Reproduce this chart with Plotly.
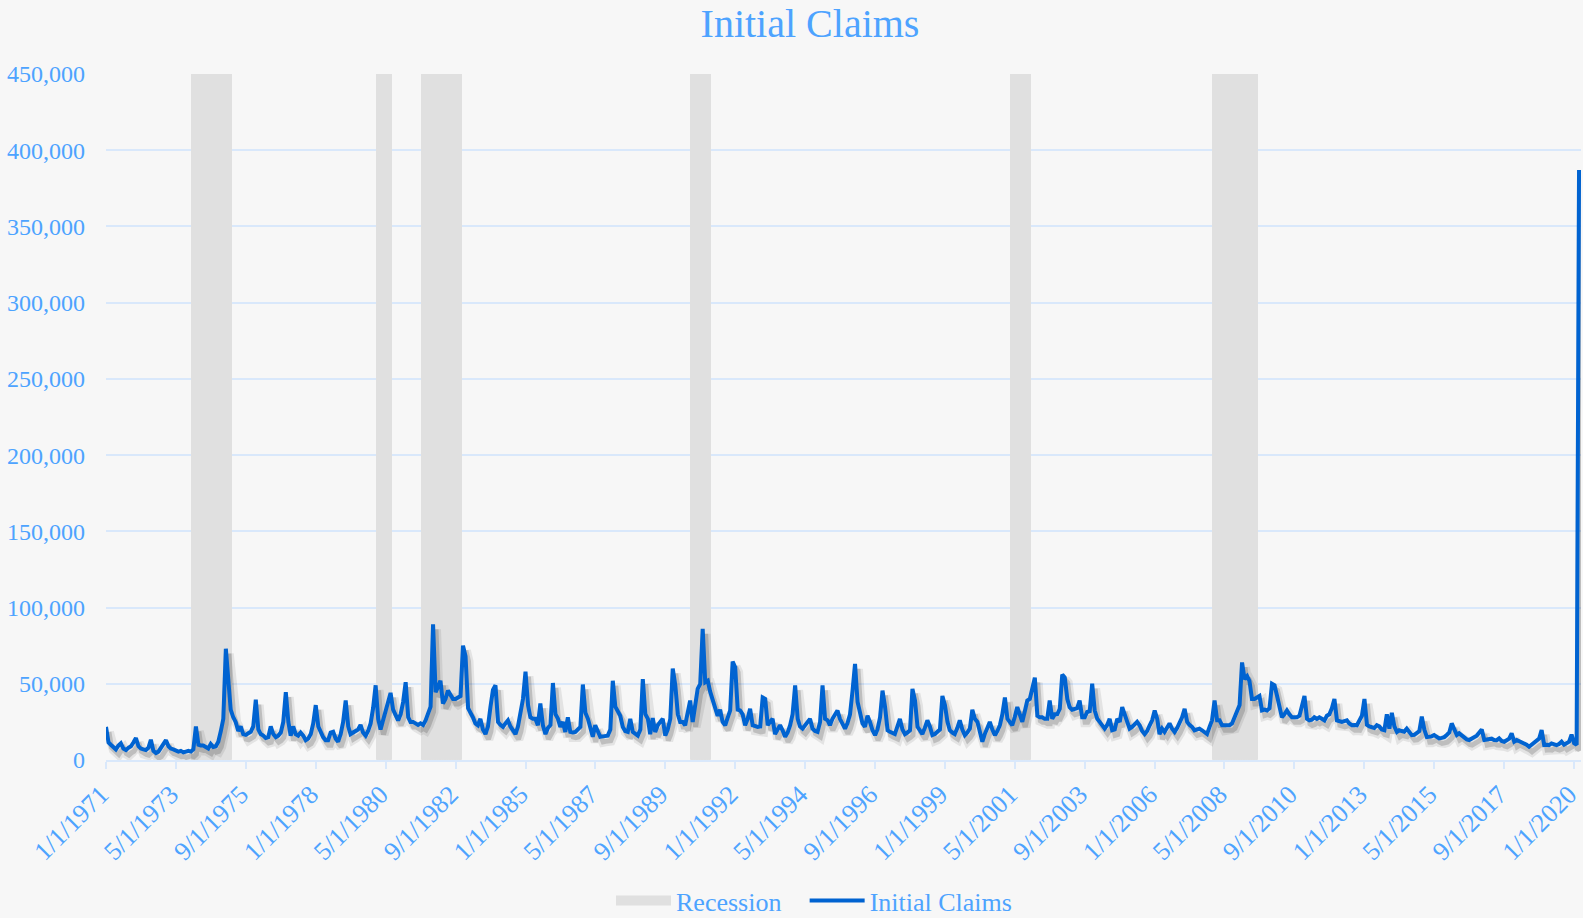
import pandas as pd
import plotly.graph_objects as go

# ---------------- data (initial claims, thousands, monthly from Jan 1971) -------------
UNIT = 1000
claims_1970s = [
    21.7, 11.5, 10, 8.5, 7, 9.5, 11, 7.5, 6.5, 8, 9, 11.5,          # 1971
    14.4, 9, 7.5, 7, 6.5, 8, 13.3, 6, 4.6, 5.5, 8, 10,              # 1972
    13, 9, 7.5, 7, 6, 5.5, 6, 5, 5.5, 6, 5.5, 7,                     # 1973
    22, 10, 9.5, 9.5, 8.5, 7.5, 10.5, 8.5, 9, 12, 19, 27,            # 1974
    73, 50, 33, 28, 25, 19, 22, 17, 16.5, 17.5, 18.5, 22,            # 1975
    39.5, 20, 17, 16, 14.5, 15, 22, 17, 15, 16, 18, 25,              # 1976
    44.5, 25, 16, 22, 17, 16, 18, 16, 13, 14, 17, 24,                # 1977
    36, 22, 18.5, 15, 13, 13, 18, 18.5, 14, 12, 17, 25,              # 1978
    39, 22, 17, 18, 19.5, 20, 23, 18, 16, 19, 24, 34,                # 1979
]
claims_1980s = [
    49, 27, 20, 26, 32, 38, 44, 33, 29, 26, 30, 38,                  # 1980
    51, 28, 25, 25, 24, 23, 24, 23, 26, 31, 35, 89,                  # 1981
    44.5, 48, 52, 37, 40, 45.5, 43, 40, 40, 41, 42, 75,              # 1982
    68, 34, 31.5, 28, 24, 22.8, 27, 20, 17, 22, 35, 46,              # 1983
    49, 25, 23, 21.7, 24, 26, 22, 19, 17, 22, 30, 40,                # 1984
    58, 36, 28, 27, 27, 22.8, 37, 22.8, 17, 21, 23, 50.5,            # 1985
    30, 27, 21.7, 25, 18.4, 28, 18.4, 18, 18.4, 20, 21.7, 49.5,      # 1986
    31, 27, 20.6, 15.2, 22.8, 18, 15.2, 15.5, 16, 16, 20, 52,        # 1987
    35, 31.5, 29, 21.7, 19, 18.4, 27, 18.4, 17, 16, 20, 53,          # 1988
    30, 27, 17, 27.5, 18.4, 22.8, 25, 27, 16, 20, 27, 60,            # 1989
]
claims_1990s = [
    49, 30, 25, 25, 22.8, 30, 39, 25, 35, 46.7, 50, 86,              # 1990
    51, 52, 45, 40, 35, 29, 33, 25, 22.8, 28, 32.5, 64.5,            # 1991
    60.8, 33, 32.5, 30, 22.8, 27, 33.6, 22.8, 22, 21.7, 22, 41,      # 1992
    40, 22.8, 25, 27, 17, 20, 22.8, 19.5, 15.2, 18, 22.8, 30,        # 1993
    49, 27, 22, 20.6, 22.8, 24, 27, 20.6, 19, 18.4, 25, 49,          # 1994
    27, 26, 22.8, 27, 30, 32.5, 27, 24, 20.6, 24, 30, 45,            # 1995
    63, 38, 30, 24, 21.7, 29, 25, 19.5, 16.3, 20, 28, 45.5,          # 1996
    34.7, 19.5, 18.5, 18, 17, 22, 27, 20, 17, 18, 19.5, 46.7,        # 1997
    39, 21.7, 19, 17, 21, 26, 22, 16.3, 17, 18.4, 20, 42,            # 1998
    36, 25, 19.5, 18, 17, 21, 26, 20, 16.3, 18, 20.6, 33,            # 1999
]
claims_2000s = [
    27, 25, 18, 12, 17, 21, 25, 20, 16.3, 19, 22.8, 30,              # 2000
    41, 27, 25, 22.8, 28, 34.7, 30, 25, 32, 39, 40, 47,              # 2001
    54, 29, 28, 28, 27, 27, 39, 27, 30, 30, 33.6, 56,                # 2002
    54, 40, 34.7, 33, 33.6, 34, 39, 28, 28, 31.5, 32, 50,            # 2003
    32.5, 27, 25, 22.8, 20.6, 23, 27, 19.5, 20, 27, 25, 34.7,        # 2004
    30, 24, 20.6, 21.7, 23, 25, 22.8, 19, 17, 19, 22.8, 26,          # 2005
    32.5, 27, 17, 20.6, 18.4, 21, 24, 20.6, 18.4, 21, 24, 28,        # 2006
    33.6, 25, 23, 21.7, 19.5, 20, 20.6, 19.5, 18, 17, 21.7, 26,      # 2007
    39, 26, 26, 22.8, 22.8, 22.8, 22.8, 24, 28, 32, 36, 64,          # 2008
    53, 55, 52, 40, 40, 41, 42, 32.5, 33, 32.5, 34, 50,              # 2009
]
claims_2010s = [
    49, 42, 36, 28, 30, 32.5, 30, 28, 28, 28, 29, 35,                # 2010
    42, 27, 26, 26.5, 28, 27, 28, 27, 26, 29, 30, 34,                # 2011
    40, 26, 25.5, 25, 25.5, 26, 24, 22.8, 23, 22.8, 26, 29,          # 2012
    40, 23, 22, 21.7, 21, 22.8, 22, 20, 19.5, 30, 20.6, 31,          # 2013
    22, 18.4, 19.5, 19, 18.6, 20.6, 18, 16.3, 16.5, 17.4, 19, 28.4,  # 2014
    20, 15, 15, 15.5, 16.4, 15, 14.2, 14.5, 15, 16.4, 18, 24,        # 2015
    19.6, 16.4, 17.5, 16, 14.2, 13.5, 13.1, 14, 14.5, 16, 18, 20,    # 2016
    13.1, 13.5, 14.2, 14, 13.1, 13, 14.2, 12.5, 12, 13, 14, 17.5,    # 2017
    12, 13.1, 12.5, 12, 11, 10, 8.7, 10, 12, 13, 14, 19.6,           # 2018
    9.8, 10, 9.8, 10.9, 10, 9.8, 10.5, 12, 10, 10.9, 12, 16.6,       # 2019
]
claims_2020 = [11, 10, 387]                                          # Jan-Mar 2020

recession_starts = ["1973-12-01", "1980-02-01", "1981-08-01", "1990-08-01", "2001-04-01", "2008-01-01"]
recession_ends = ["1975-03-01", "1980-07-01", "1982-11-01", "1991-03-01", "2001-11-01", "2009-06-01"]

y_ticks = [0, 50000, 100000, 150000, 200000, 250000, 300000, 350000, 400000, 450000]
Y_MAX = 450000

# ---------------- build -------------------------------------------------------------
claims = [v * UNIT for v in claims_1970s + claims_1980s + claims_1990s + claims_2000s + claims_2010s + claims_2020]
months = pd.date_range("1971-01-01", periods=len(claims), freq="MS")

in_rec = [any(pd.Timestamp(s) <= m <= pd.Timestamp(e) for s, e in zip(recession_starts, recession_ends))
          for m in months]
rec_y = [Y_MAX if f else None for f in in_rec]
rec_w = [d * 86400000 for d in months.days_in_month]

BG = "#f7f7f7"
TXT = "#4da3ff"
GRID = "#d9e8fb"
LINE = "#0063d1"
REC = "#e0e0e0"
FONT = "Liberation Serif, Times New Roman, serif"

x_start = pd.Timestamp("1971-01-01")
x_end = pd.Timestamp("2020-03-25")
shift = pd.Timedelta(days=36)          # shadow offset (~3 px right)
y_shift = 3300                         # shadow offset (~5 px down)

fig = go.Figure()
fig.add_trace(go.Bar(x=months, y=rec_y, width=rec_w, name="Recession", showlegend=False,
                     marker=dict(color=REC, line=dict(width=1, color=REC)), hoverinfo="skip"))
# legend entry for the recession band (wide grey swatch)
fig.add_trace(go.Scatter(x=[None], y=[None], mode="lines", name="Recession\u00a0\u00a0\u2009",
                         line=dict(color=REC, width=14)))
# soft shadow under the line
fig.add_trace(go.Scatter(x=months, y=claims, mode="lines", xaxis="x2", yaxis="y2",
                         line=dict(color="rgba(0,0,0,0.08)", width=10), showlegend=False,
                         hoverinfo="skip"))
fig.add_trace(go.Scatter(x=months, y=claims, mode="lines", xaxis="x2", yaxis="y2",
                         line=dict(color="rgba(0,0,0,0.16)", width=5), showlegend=False,
                         hoverinfo="skip"))
fig.add_trace(go.Scatter(x=months, y=claims, mode="lines", xaxis="x3", yaxis="y3",
                         name="Initial Claims", line=dict(color=LINE, width=4)))

fig.update_layout(
    width=1583, height=918,
    paper_bgcolor=BG, plot_bgcolor=BG,
    margin=dict(l=106, r=2, t=74, b=158, autoexpand=False),
    font=dict(family=FONT, color=TXT, size=24),
    title=dict(text="Initial Claims", x=810 / 1583, xref="container", xanchor="center",
               y=1, yref="container", yanchor="top", pad=dict(t=9),
               font=dict(family=FONT, size=40, color=TXT)),
    bargap=0,
    showlegend=True,
    legend=dict(orientation="h", x=0.48, xanchor="center", y=-0.205, yanchor="middle",
                font=dict(family=FONT, size=26, color=TXT), bgcolor="rgba(0,0,0,0)",
                itemwidth=55, traceorder="normal"),
    xaxis=dict(type="date", range=[x_start, x_end], tick0="1971-01-01", dtick="M28",
               tickformat="%-m/%-d/%Y", tickangle=-45, showgrid=False,
               showline=True, linecolor=GRID, linewidth=2,
               ticks="outside", ticklen=7, tickwidth=2, tickcolor=GRID,
               ticklabeloverflow="allow", automargin=False, ticklabelshift=-5,
               tickfont=dict(family=FONT, size=26, color=TXT), zeroline=False),
    yaxis=dict(range=[0, Y_MAX], tickvals=y_ticks, tickformat=",", showgrid=True,
               gridcolor=GRID, gridwidth=2, zeroline=False, showline=False,
               ticklabelstandoff=20, automargin=False,
               tickfont=dict(family=FONT, size=24, color=TXT)),
    xaxis2=dict(type="date", overlaying="x", range=[x_start - shift, x_end - shift],
                visible=False, anchor="y2"),
    yaxis2=dict(overlaying="y", range=[y_shift, Y_MAX + y_shift], visible=False, anchor="x2"),
    xaxis3=dict(type="date", overlaying="x", range=[x_start, x_end], visible=False, anchor="y3"),
    yaxis3=dict(overlaying="y", range=[0, Y_MAX], visible=False, anchor="x3"),
)

fig.write_html("out.html", config={"displayModeBar": False},
               post_script="document.body.style.margin='0';document.body.style.overflow='hidden';")
